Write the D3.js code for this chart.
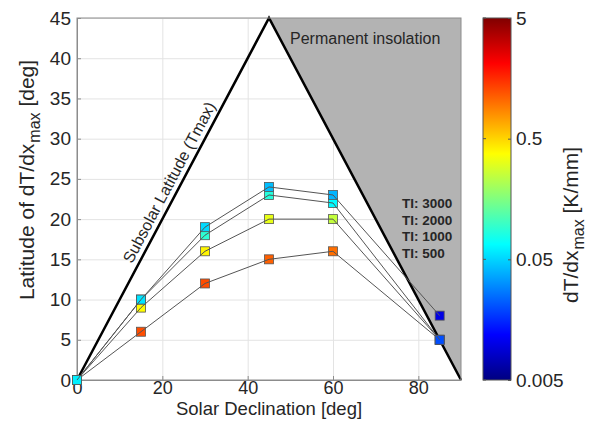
<!DOCTYPE html>
<html>
<head>
<meta charset="utf-8">
<script src="https://cdn.jsdelivr.net/npm/d3@7.9.0/dist/d3.min.js"></script>
<style>
  body { margin: 0; background: #fff; }
  svg { font-family: 'Liberation Sans', Arial, sans-serif; }
</style>
</head>
<body>
<svg id="chart" width="593" height="429"></svg>
<script>
// Data
const declination = [0, 15, 30, 45, 60, 85];
const tiNames = ['TI: 3000', 'TI: 2000', 'TI: 1000', 'TI: 500'];
const lat3000 = [0, 10, 19, 24, 23, 8];
const lat2000 = [0, 10, 18, 23, 22, 5];
const lat1000 = [0, 9, 16, 20, 20, 5];
const lat500 = [0, 6, 12, 15, 16, 5];
// dT/dx max [K/mm] (marker colour)
const grad3000 = [0.06, 0.055, 0.052, 0.043, 0.04, 0.01];
const grad2000 = [0.06, 0.06, 0.09, 0.085, 0.065, 0.02];
const grad1000 = [0.06, 0.38, 0.4, 0.32, 0.25, 0.02];
const grad500 = [0.06, 1.25, 1.25, 1.1, 1.0, 0.02];
const xTicks = [0, 20, 40, 60, 80];
const yTicks = [0, 5, 10, 15, 20, 25, 30, 35, 40, 45];
const cbTicks = [0.005, 0.05, 0.5, 5];
const subsolar = [[0, 0], [45, 45], [90, 0]];
const insolation = [[45, 45], [90, 45], [90, 0]];

// drawn bottom series first so the higher TI markers sit on top
const series = [
    { name: 'TI: 500', lat: lat500, grad: grad500 },
    { name: 'TI: 1000', lat: lat1000, grad: grad1000 },
    { name: 'TI: 2000', lat: lat2000, grad: grad2000 },
    { name: 'TI: 3000', lat: lat3000, grad: grad3000 },
];

function jet(t) {
    const c = v => Math.round(255 * Math.max(0, Math.min(1, v)));
    return `rgb(${c(1.5 - Math.abs(4 * t - 3))},${c(1.5 - Math.abs(4 * t - 2))},${c(1.5 - Math.abs(4 * t - 1))})`;
}

const svg = d3.select('#chart');
const area = { left: 77, right: 461, top: 18, bottom: 380 };

const x = d3.scaleLinear().domain([0, 90]).range([area.left, area.right]);
const y = d3.scaleLinear().domain([0, 45]).range([area.bottom, area.top]);
const cScale = d3.scaleLog().domain([0.005, 5]).range([0, 1]);
const color = v => jet(cScale(v));

// Gridlines
svg.append('g')
    .attr('transform', `translate(0, ${area.bottom})`)
    .call(d3.axisBottom(x).tickValues(xTicks).tickFormat('').tickSize(-(area.bottom - area.top)))
    .call(g => g.select('.domain').remove())
    .selectAll('line').attr('stroke', '#e3e3e3');
svg.append('g')
    .attr('transform', `translate(${area.left}, 0)`)
    .call(d3.axisLeft(y).tickValues(yTicks).tickFormat('').tickSize(-(area.right - area.left)))
    .call(g => g.select('.domain').remove())
    .selectAll('line').attr('stroke', '#e3e3e3');

// Permanent insolation patch
svg.append('path')
    .datum(insolation)
    .attr('d', d3.line().x(d => x(d[0])).y(d => y(d[1])).curve(d3.curveLinearClosed))
    .attr('fill', '#b3b3b3');

// Subsolar latitude
svg.append('path')
    .datum(subsolar)
    .attr('d', d3.line().x(d => x(d[0])).y(d => y(d[1])))
    .attr('fill', 'none')
    .attr('stroke', '#000')
    .attr('stroke-width', 2.5);

// Box
svg.append('rect')
    .attr('x', area.left).attr('y', area.top)
    .attr('width', area.right - area.left).attr('height', area.bottom - area.top)
    .attr('fill', 'none').attr('stroke', '#8c8c8c').attr('stroke-width', 1);

// Axes (ticks inward)
const xAxis = svg.append('g')
    .attr('transform', `translate(0, ${area.bottom})`)
    .call(d3.axisBottom(x).tickValues(xTicks).tickSizeInner(-4).tickSizeOuter(0).tickPadding(0));
const yAxis = svg.append('g')
    .attr('transform', `translate(${area.left}, 0)`)
    .call(d3.axisLeft(y).tickValues(yTicks).tickSizeInner(-4).tickSizeOuter(0).tickPadding(6));
[xAxis, yAxis].forEach(g => {
    g.select('.domain').attr('stroke', '#8c8c8c');
    g.selectAll('line').attr('stroke', '#8c8c8c');
    g.selectAll('text').attr('fill', '#262626').style('font-size', '19px').style('font-family', 'Liberation Sans, Arial, sans-serif');
});
xAxis.selectAll('text').style('font-size', '18px').attr('y', 0).attr('dy', '0.78em');

// Series lines and markers
const line = d3.line().x(d => x(d[0])).y(d => y(d[1]));
const sGroup = svg.append('g');
series.forEach(s => {
    const pts = declination.map((d, i) => [d, s.lat[i], s.grad[i]]);
    sGroup.append('g').selectAll('rect')
        .data(pts)
        .join('rect')
        .attr('x', d => x(d[0]) - 4.5)
        .attr('y', d => y(d[1]) - 4.5)
        .attr('width', 9).attr('height', 9)
        .attr('fill', d => color(d[2]))
        .attr('stroke', '#555').attr('stroke-width', 0.8);
    sGroup.append('path')
        .datum(pts)
        .attr('d', line)
        .attr('fill', 'none')
        .attr('stroke', '#555')
        .attr('stroke-width', 1);
});

// Annotations
svg.append('text')
    .attr('x', 290).attr('y', 44)
    .style('font-size', '16px').attr('fill', '#262626')
    .text('Permanent insolation');

const ang = Math.atan2(y(0) - y(45), x(45) - x(0)) * 180 / Math.PI;
svg.append('text')
    .attr('transform', `translate(${(x(0) + x(45)) / 2 + 1}, ${(y(0) + y(45)) / 2 - 14}) rotate(${-ang})`)
    .attr('text-anchor', 'middle')
    .style('font-size', '16px').attr('fill', '#262626')
    .text('Subsolar Latitude (Tmax)');

svg.append('g').selectAll('text')
    .data(tiNames)
    .join('text')
    .attr('x', 402)
    .attr('y', (d, i) => 208 + i * 16.5)
    .style('font-size', '13.5px').style('font-weight', 'bold').attr('fill', '#262626')
    .text(d => d);

// Axis titles
svg.append('text')
    .attr('x', x(45)).attr('y', 415)
    .attr('text-anchor', 'middle')
    .style('font-size', '18.5px').attr('fill', '#262626')
    .text('Solar Declination [deg]');

const yTitle = svg.append('text')
    .attr('transform', `translate(34, 180) rotate(-90)`)
    .attr('text-anchor', 'middle')
    .style('font-size', '21px').attr('fill', '#262626');
yTitle.append('tspan').text('Latitude of dT/dx');
yTitle.append('tspan').attr('dx', 1).attr('dy', 6).style('font-size', '16px').text('max');
yTitle.append('tspan').attr('dy', -6).text(' [deg]');

// Colorbar
const cb = { left: 483, right: 511 };
const cbY = d3.scaleLog().domain([0.005, 5]).range([area.bottom, area.top]);
const grad = svg.append('defs').append('linearGradient')
    .attr('id', 'jet').attr('x1', 0).attr('y1', 1).attr('x2', 0).attr('y2', 0);
grad.selectAll('stop')
    .data(d3.range(0, 1.0001, 0.125))
    .join('stop')
    .attr('offset', d => d)
    .attr('stop-color', d => jet(d));
svg.append('rect')
    .attr('x', cb.left).attr('y', area.top)
    .attr('width', cb.right - cb.left).attr('height', area.bottom - area.top)
    .attr('fill', 'url(#jet)')
    .attr('stroke', '#555').attr('stroke-width', 1);
const cbAxis = svg.append('g')
    .attr('transform', `translate(${cb.right}, 0)`)
    .call(d3.axisRight(cbY).tickValues(cbTicks).tickFormat(d => String(d)).tickSizeInner(-3).tickSizeOuter(0).tickPadding(5));
cbAxis.select('.domain').remove();
cbAxis.selectAll('line').attr('stroke', '#555');
cbAxis.selectAll('text').attr('fill', '#262626').style('font-size', '19px').style('font-family', 'Liberation Sans, Arial, sans-serif');
svg.append('g').selectAll('line')
    .data(cbTicks)
    .join('line')
    .attr('x1', cb.left).attr('x2', cb.left + 3)
    .attr('y1', d => cbY(d)).attr('y2', d => cbY(d))
    .attr('stroke', '#555');

const cTitle = svg.append('text')
    .attr('transform', `translate(578, 225) rotate(-90)`)
    .attr('text-anchor', 'middle')
    .style('font-size', '21px').attr('fill', '#262626');
cTitle.append('tspan').text('dT/dx');
cTitle.append('tspan').attr('dx', 1).attr('dy', 6).style('font-size', '16px').text('max');
cTitle.append('tspan').attr('dy', -6).text(' [K/mm]');
</script>
</body>
</html>
